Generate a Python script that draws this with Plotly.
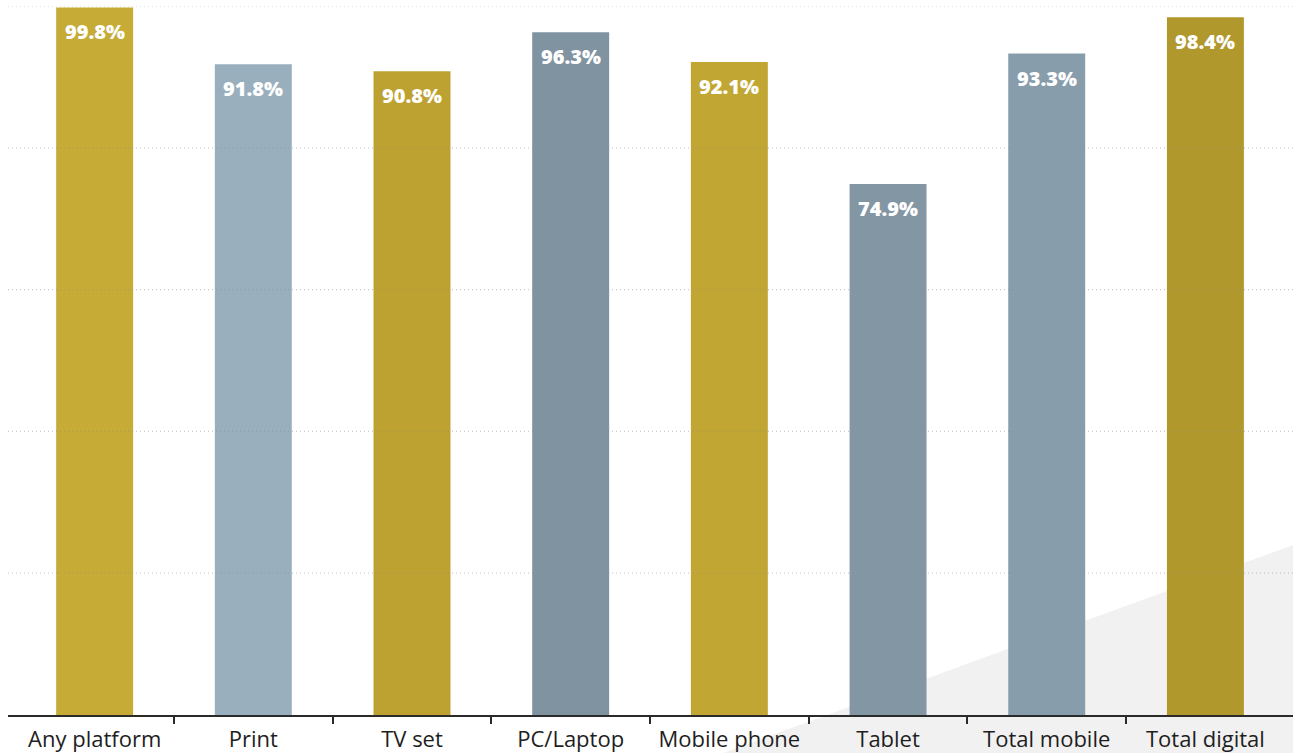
import plotly.graph_objects as go

categories = ["Any platform", "Print", "TV set", "PC/Laptop", "Mobile phone",
              "Tablet", "Total mobile", "Total digital"]
values = [99.8, 91.8, 90.8, 96.3, 92.1, 74.9, 93.3, 98.4]
bar_colors = ["#C6AB37", "#9AAFBE", "#BDA232", "#7F93A1", "#C1A634",
              "#8396A3", "#889DAC", "#B0982D"]
grid_values = [20, 40, 60, 80, 100]
boundary_ticks = [i + 0.5 for i in range(len(categories) - 1)]

XR = [-0.546, 7.552]
FONT = "Open Sans"

fig = go.Figure()
fig.add_trace(go.Bar(
    x=categories, y=values, width=0.485,
    marker=dict(color=bar_colors, line=dict(width=0)),
    hoverinfo="skip", showlegend=False,
))
# invisible trace to hold the boundary tick axis
fig.add_trace(go.Scatter(x=[XR[0], XR[1]], y=[0, 0], xaxis="x2", mode="markers",
                         marker=dict(opacity=0), hoverinfo="skip", showlegend=False))

for c, v in zip(categories, values):
    fig.add_annotation(x=c, y=v, yref="y", xref="x", text=f"{v}%",
                       showarrow=False, yanchor="top", yshift=-9,
                       font=dict(family=FONT, size=20, color="white", weight=800))

shapes = []
# light gray decorative background facet (bottom right)
shapes.append(dict(type="path", xref="paper", yref="paper", layer="below",
                   path="M 0.5564 -0.0536 L 1.0 0.2398 L 1.0 -0.0536 Z",
                   fillcolor="#F1F1F1", line=dict(width=0)))
for g in grid_values:
    shapes.append(dict(type="line", xref="paper", yref="y", x0=0, x1=1, y0=g, y1=g,
                       layer="above", line=dict(color="rgba(140,140,140,0.45)", width=1.2, dash="1px,3px")))

fig.update_layout(
    width=1293, height=753,
    margin=dict(l=8, r=0, t=6, b=38),
    paper_bgcolor="white", plot_bgcolor="rgba(0,0,0,0)",
    bargap=0.5,
    shapes=shapes,
    xaxis=dict(type="category", range=XR, showline=True, linecolor="#2a2a2a", linewidth=1.5,
               ticks="", showgrid=False, zeroline=False, ticklabelstandoff=4,
               tickfont=dict(family=FONT, size=22, color="#1e1e1e")),
    xaxis2=dict(overlaying="x", anchor="y", side="bottom", type="linear", range=XR,
                tickmode="array", tickvals=boundary_ticks, ticks="outside", ticklen=8,
                tickwidth=1.5, tickcolor="#2a2a2a", showticklabels=False, showgrid=False,
                zeroline=False, showline=False),
    yaxis=dict(range=[0, 100], showgrid=False, zeroline=False, showticklabels=False,
               ticks="", showline=False),
)

fig.write_html("out.html")
